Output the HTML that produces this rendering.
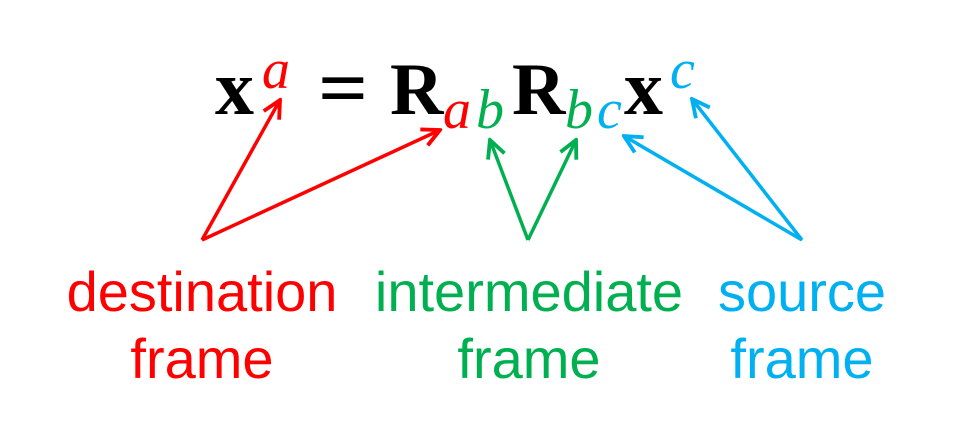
<!DOCTYPE html>
<html><head><meta charset="utf-8"><style>
html,body{margin:0;padding:0;background:#fff;width:960px;height:423px;overflow:hidden}
svg{display:block}
.m{font-family:"Liberation Serif",serif;font-weight:bold;fill:#000}
.i{font-family:"Liberation Serif",serif;font-style:italic}
.l{font-family:"Liberation Sans",sans-serif;font-size:56px}
</style></head><body>
<svg width="960" height="423" viewBox="0 0 960 423">
<defs>
<marker id="ar" viewBox="0 0 20 20" refX="18" refY="10" markerWidth="22" markerHeight="22" markerUnits="userSpaceOnUse" orient="auto"><path d="M2,2 L18,10 L2,18" fill="none" stroke="#ff0000" stroke-width="3.5"/></marker>
<marker id="ag" viewBox="0 0 20 20" refX="18" refY="10" markerWidth="22" markerHeight="22" markerUnits="userSpaceOnUse" orient="auto"><path d="M2,2 L18,10 L2,18" fill="none" stroke="#00b050" stroke-width="3.5"/></marker>
<marker id="ab" viewBox="0 0 20 20" refX="18" refY="10" markerWidth="22" markerHeight="22" markerUnits="userSpaceOnUse" orient="auto"><path d="M2,2 L18,10 L2,18" fill="none" stroke="#00b0f0" stroke-width="3.5"/></marker>
</defs>
<g>
<text class="m" x="215" y="114" font-size="78">x</text>
<text class="i" x="262" y="88" font-size="56" fill="#ff0000">a</text>
<text class="m" x="318" y="115" font-size="80" transform="translate(318 0) scale(1.1 1) translate(-318 0)">=</text>
<text class="m" x="390" y="114" font-size="74">R</text>
<text class="i" x="443" y="128" font-size="56" fill="#ff0000">a</text>
<text class="i" x="476" y="128" font-size="56" fill="#00b050">b</text>
<text class="m" x="512" y="114" font-size="74">R</text>
<text class="i" x="565" y="128" font-size="56" fill="#00b050">b</text>
<text class="i" x="597" y="128" font-size="56" fill="#00b0f0">c</text>
<text class="m" x="624" y="114" font-size="78">x</text>
<text class="i" x="670" y="88" font-size="56" fill="#00b0f0">c</text>
</g>
<g fill="none" stroke-width="3.5">
<line x1="202" y1="240" x2="280" y2="100" stroke="#ff0000" marker-end="url(#ar)"/>
<line x1="202" y1="240" x2="440" y2="130" stroke="#ff0000" marker-end="url(#ar)"/>
<line x1="528" y1="240" x2="490" y2="140" stroke="#00b050" marker-end="url(#ag)"/>
<line x1="528" y1="240" x2="576" y2="140" stroke="#00b050" marker-end="url(#ag)"/>
<line x1="802" y1="240" x2="624" y2="136" stroke="#00b0f0" marker-end="url(#ab)"/>
<line x1="802" y1="240" x2="692" y2="99" stroke="#00b0f0" marker-end="url(#ab)"/>
</g>
<g class="l" text-anchor="middle">
<text x="202" y="311" fill="#ff0000">destination</text>
<text x="202" y="378" fill="#ff0000">frame</text>
<text x="529" y="311" fill="#00b050">intermediate</text>
<text x="529" y="378" fill="#00b050">frame</text>
<text x="802" y="311" fill="#00b0f0">source</text>
<text x="802" y="378" fill="#00b0f0">frame</text>
</g>
</svg>
</body></html>
